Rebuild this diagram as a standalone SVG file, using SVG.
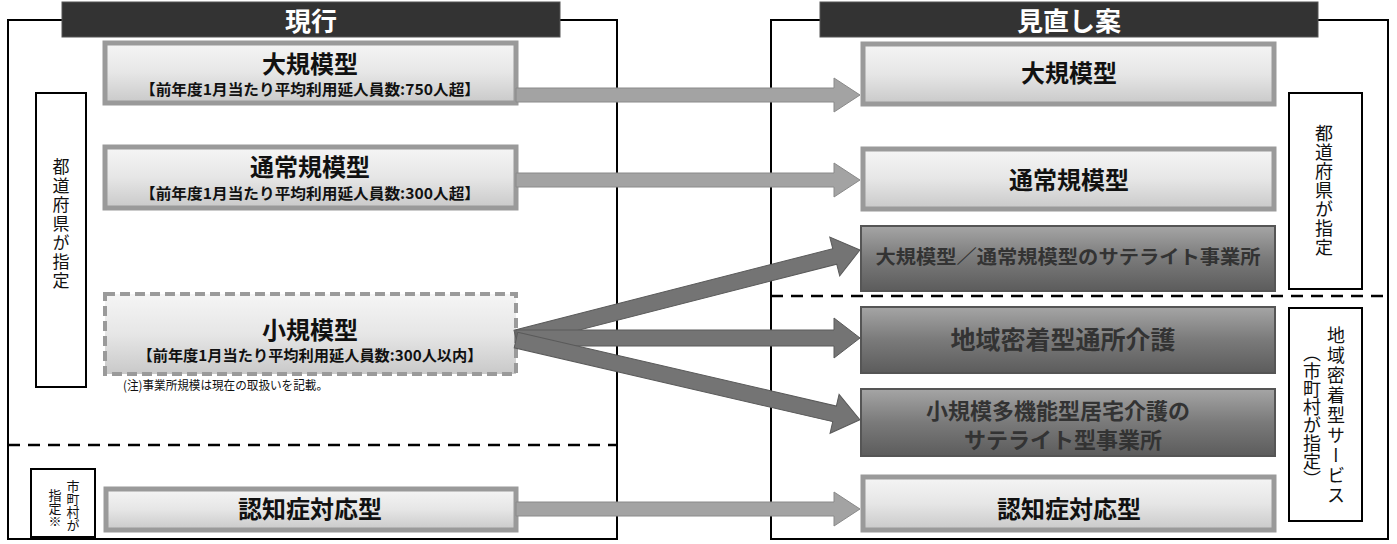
<svg xmlns="http://www.w3.org/2000/svg" width="1397" height="544" viewBox="0 0 1397 544">
<style>
text{font-family:"Noto Sans CJK JP","Noto Sans CJK SC",sans-serif;}
.panel{fill:#fff;stroke:#000;stroke-width:2;}
.hdr{fill:#333;stroke:#555;stroke-width:1;}
.hdrt{fill:#fff;font-size:26px;font-weight:bold;text-anchor:middle;}
.vbox{fill:#fff;stroke:#000;stroke-width:2;}
.vt{writing-mode:vertical-rl;text-anchor:middle;fill:#111;}
.lbox{fill:url(#lg);stroke:#9a9a9a;stroke-width:5;}
.lboxd{fill:url(#lg);stroke:#9a9a9a;stroke-width:4;stroke-dasharray:10 5;}
.dbox{fill:url(#dg);stroke:#555;stroke-width:2;}
.tt{font-size:24px;font-weight:bold;text-anchor:middle;fill:#111;}
.st{font-size:15px;font-weight:bold;text-anchor:middle;fill:#111;}
.dt{font-weight:bold;text-anchor:middle;fill:#333;}
.sep{stroke:#000;stroke-width:2.5;stroke-dasharray:12 8;fill:none;}
.arL{fill:#a3a3a3;stroke:#8a8a8a;stroke-width:1;}
.arD{fill:#747474;stroke:#5a5a5a;stroke-width:1;}
</style>
<defs>
<linearGradient id="lg" x1="0" y1="0" x2="0" y2="1">
<stop offset="0" stop-color="#f5f5f5"/><stop offset="0.5" stop-color="#e6e6e6"/><stop offset="1" stop-color="#c9c9c9"/>
</linearGradient>
<linearGradient id="dg" x1="0" y1="0" x2="0" y2="1">
<stop offset="0" stop-color="#a5a5a5"/><stop offset="0.5" stop-color="#7a7a7a"/><stop offset="1" stop-color="#5c5c5c"/>
</linearGradient>
</defs>
<rect width="1397" height="544" fill="#fff"/>

<g id="left-panel">
<rect class="panel" x="8" y="20" width="609" height="519"/>
<line class="sep" x1="8" y1="445" x2="617" y2="445"/>
</g>
<g id="right-panel">
<rect class="panel" x="771" y="20" width="617" height="519"/>
<line class="sep" x1="771" y1="296" x2="1388" y2="296"/>
</g>

<g id="hdr-current">
<rect class="hdr" x="62" y="2" width="498" height="35"/>
<text class="hdrt" x="311" y="31">現行</text>
</g>
<g id="hdr-proposal">
<rect class="hdr" x="820" y="2" width="498" height="35"/>
<text class="hdrt" x="1069" y="31">見直し案</text>
</g>

<g id="lv-pref">
<rect class="vbox" x="36" y="93" width="50" height="294"/>
<text class="vt" x="61" y="225" font-size="17" letter-spacing="2">都道府県が指定</text>
</g>
<g id="lv-city">
<rect class="vbox" x="31" y="469" width="64" height="68"/>
<text class="vt" x="73" y="506" font-size="13">市町村が</text>
<text class="vt" x="55" y="508" font-size="13">指定※</text>
</g>

<g id="l-large">
<rect class="lbox" x="105" y="43" width="411" height="60"/>
<text class="tt" x="310" y="73">大規模型</text>
<text class="st" x="310" y="95" textLength="340" lengthAdjust="spacingAndGlyphs">【前年度1月当たり平均利用延人員数:750人超】</text>
</g>
<g id="l-normal">
<rect class="lbox" x="105" y="147" width="411" height="61"/>
<text class="tt" x="310" y="176">通常規模型</text>
<text class="st" x="310" y="199" textLength="340" lengthAdjust="spacingAndGlyphs">【前年度1月当たり平均利用延人員数:300人超】</text>
</g>
<g id="l-small">
<rect class="lboxd" x="105" y="294" width="411" height="80"/>
<text class="tt" x="310" y="339">小規模型</text>
<text class="st" x="310" y="361" textLength="345" lengthAdjust="spacingAndGlyphs">【前年度1月当たり平均利用延人員数:300人以内】</text>
</g>
<text x="123" y="390" font-size="12.5" fill="#111" textLength="205" lengthAdjust="spacingAndGlyphs">(注)事業所規模は現在の取扱いを記載。</text>
<g id="l-dementia">
<rect class="lbox" x="106" y="489" width="410" height="41"/>
<text class="tt" x="310" y="518">認知症対応型</text>
</g>

<g id="r-large">
<rect class="lbox" x="863" y="44" width="411" height="60"/>
<text class="tt" x="1069" y="82">大規模型</text>
</g>
<g id="r-normal">
<rect class="lbox" x="863" y="149" width="411" height="60"/>
<text class="tt" x="1069" y="189">通常規模型</text>
</g>
<g id="r-satellite">
<rect class="dbox" x="861" y="226" width="414" height="65"/>
<text class="dt" x="1068" y="264" font-size="19" textLength="385" lengthAdjust="spacingAndGlyphs">大規模型／通常規模型のサテライト事業所</text>
</g>
<g id="r-community">
<rect class="dbox" x="861" y="307" width="414" height="66"/>
<text class="dt" x="1063" y="349" font-size="25">地域密着型通所介護</text>
</g>
<g id="r-multi">
<rect class="dbox" x="861" y="389" width="414" height="67"/>
<text class="dt" x="1058" y="419" font-size="22">小規模多機能型居宅介護の</text>
<text class="dt" x="1063" y="448" font-size="22">サテライト型事業所</text>
</g>
<g id="r-dementia">
<rect class="lbox" x="863" y="477" width="411" height="53"/>
<text class="tt" x="1069" y="518">認知症対応型</text>
</g>

<g id="rv-pref">
<rect class="vbox" x="1289" y="93" width="73" height="196"/>
<text class="vt" x="1324" y="191" font-size="18" letter-spacing="1">都道府県が指定</text>
</g>
<g id="rv-community">
<rect class="vbox" x="1289" y="308" width="73" height="213"/>
<text class="vt" x="1336" y="416" font-size="18" letter-spacing="2">地域密着型サービス</text>
<text class="vt" x="1312" y="416" font-size="18">（市町村が指定）</text>
</g>

<g id="connectors">
<path class="arL" d="M516,88 L834,88 L834,78 L860,95 L834,112 L834,102 L516,102 Z"/>
<path class="arL" d="M516,173 L834,173 L834,163 L860,180 L834,197 L834,187 L516,187 Z"/>
<path class="arL" d="M516,502 L834,502 L834,492 L860,509 L834,526 L834,516 L516,516 Z"/>
<g transform="translate(516,338) rotate(-14.35)">
<path class="arD" d="M0,-8 L329,-8 L329,-20 L355,0 L329,20 L329,8 L0,8 Z"/>
</g>
<path class="arD" d="M516,330 L834,330 L834,318 L860,338 L834,358 L834,346 L516,346 Z"/>
<g transform="translate(516,340) rotate(13.05)">
<path class="arD" d="M0,-8 L327,-8 L327,-20 L353,0 L327,20 L327,8 L0,8 Z"/>
</g>
</g>
</svg>
